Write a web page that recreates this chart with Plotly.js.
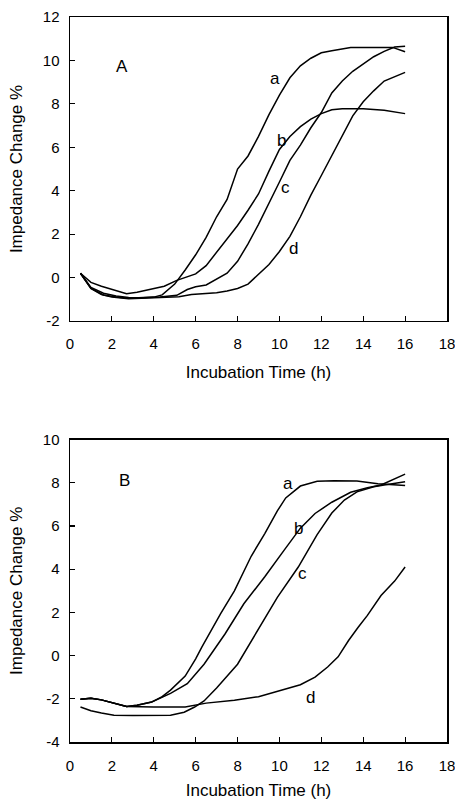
<!DOCTYPE html>
<html>
<head>
<meta charset="utf-8">
<script src="https://cdn.plot.ly/plotly-3.0.1.min.js"></script>
<style>html,body{margin:0;padding:0;background:#fff;}#chart{width:455px;height:800px;}</style>
</head>
<body>
<div id="chart"></div>
<script>
// Panel A data
const A_a_x = [0.5,1.0,1.6,2.2,2.8,3.4,4.0,4.4,5.0,5.5,6.0,6.5,7.0,7.5,8.0,8.5,9.0,9.5,10.0,10.5,11.0,11.5,12.0,12.5,13.0,13.4,14.0,14.5,15.0,15.4,16.0];
const A_a_y = [0.2,-0.5,-0.8,-0.9,-0.95,-0.93,-0.9,-0.8,-0.3,0.35,1.05,1.85,2.8,3.6,5.0,5.6,6.5,7.5,8.4,9.2,9.75,10.1,10.35,10.45,10.52,10.6,10.6,10.6,10.6,10.6,10.4];
const A_b_x = [0.5,1.0,1.5,2.0,2.7,3.2,4.0,4.5,5.1,5.6,6.0,6.5,7.0,7.5,8.0,8.5,9.0,9.5,10.0,10.5,11.0,11.5,12.0,12.5,13.0,14.0,15.0,16.0];
const A_b_y = [0.2,-0.22,-0.4,-0.55,-0.74,-0.68,-0.52,-0.4,-0.13,0.05,0.17,0.55,1.15,1.75,2.4,3.1,3.85,4.9,5.9,6.5,6.95,7.3,7.55,7.73,7.78,7.78,7.7,7.55];
const A_c_x = [0.5,1.0,1.6,2.2,2.8,3.5,4.3,5.1,5.6,6.0,6.5,7.0,7.5,8.0,8.5,9.0,9.5,10.0,10.5,11.0,11.5,12.0,12.5,13.0,13.5,14.0,14.5,15.0,15.5,16.0];
const A_c_y = [0.2,-0.45,-0.72,-0.85,-0.92,-0.93,-0.9,-0.82,-0.55,-0.42,-0.34,-0.05,0.2,0.75,1.55,2.45,3.4,4.4,5.4,6.1,6.9,7.6,8.5,9.05,9.5,9.85,10.17,10.42,10.62,10.65];
const A_d_x = [0.5,1.0,1.5,2.0,2.8,3.5,4.5,5.2,5.8,6.5,7.0,7.5,8.0,8.5,9.0,9.5,10.0,10.5,11.0,11.5,12.0,12.5,13.0,13.5,14.0,14.5,15.0,15.5,16.0];
const A_d_y = [0.2,-0.5,-0.78,-0.9,-0.97,-0.95,-0.92,-0.88,-0.78,-0.72,-0.7,-0.62,-0.5,-0.3,0.15,0.6,1.2,1.9,2.8,3.8,4.7,5.6,6.5,7.45,8.1,8.6,9.05,9.25,9.45];

// Panel B data
const B_a_x = [0.5,1.0,1.5,2.0,2.7,3.2,3.9,4.4,4.8,5.5,6.0,6.3,6.8,7.2,7.85,8.3,8.65,9.3,9.9,10.3,11.0,11.8,12.6,13.7,14.7,16.0];
const B_a_y = [-2.02,-1.98,-2.05,-2.17,-2.36,-2.3,-2.15,-1.9,-1.6,-0.95,-0.15,0.4,1.3,1.95,3.0,3.9,4.6,5.65,6.7,7.3,7.85,8.07,8.1,8.08,7.96,7.88];
const B_b_x = [0.5,1.0,1.5,2.0,2.7,3.2,3.9,4.8,5.6,6.4,7.4,8.3,9.3,10.2,11.0,11.7,12.5,13.4,14.2,14.85,16.0];
const B_b_y = [-2.02,-1.98,-2.05,-2.17,-2.36,-2.3,-2.15,-1.75,-1.3,-0.4,1.0,2.4,3.65,4.85,5.9,6.58,7.1,7.56,7.77,7.9,8.4];
const B_c_x = [0.5,1.0,1.5,2.1,3.0,4.8,5.45,5.95,6.4,7.0,8.0,9.0,9.9,10.9,11.8,12.5,13.1,13.7,14.5,15.0,16.0];
const B_c_y = [-2.38,-2.55,-2.66,-2.76,-2.77,-2.76,-2.62,-2.38,-2.1,-1.5,-0.4,1.2,2.7,4.1,5.6,6.6,7.2,7.58,7.82,7.9,8.05];
const B_d_x = [0.5,1.0,1.5,2.0,2.7,4.0,5.5,6.5,7.85,9.0,10.0,11.0,11.7,12.3,12.8,13.3,13.75,14.2,14.85,15.5,16.0];
const B_d_y = [-2.02,-1.98,-2.05,-2.17,-2.36,-2.38,-2.38,-2.2,-2.07,-1.9,-1.62,-1.35,-1.0,-0.53,-0.06,0.7,1.3,1.86,2.78,3.45,4.1];

const xTicks = [0,2,4,6,8,10,12,14,16,18];
const yTicksA = [-2,0,2,4,6,8,10,12];
const yTicksB = [-4,-2,0,2,4,6,8,10];
const txt = v => v.map(n => String(n));

const curveLabels = ['a','b','c','d'];
const panelNames = ['A','B'];
const labelPosA = {x:[9.79,10.1,10.3,10.67], y:[9.16,6.32,4.17,1.33]};
const labelPosB = {x:[10.4,10.92,11.1,11.46], y:[7.99,5.88,3.8,-1.92]};
const panelPos = {x:[2.48,2.59], y:[9.73,8.12]};

const FONT = 'Liberation Sans, Arial, sans-serif';
const line = {color:'#000', width:1.5};

function tr(x,y,xa,ya){ return {x:x,y:y,xaxis:xa,yaxis:ya,mode:'lines',line:line,showlegend:false,hoverinfo:'skip'}; }

const data = [
  tr(A_a_x,A_a_y,'x','y'), tr(A_b_x,A_b_y,'x','y'), tr(A_c_x,A_c_y,'x','y'), tr(A_d_x,A_d_y,'x','y'),
  tr(B_a_x,B_a_y,'x2','y2'), tr(B_b_x,B_b_y,'x2','y2'), tr(B_c_x,B_c_y,'x2','y2'), tr(B_d_x,B_d_y,'x2','y2')
];

function xaxis(domainAnchor){
  return {
    range:[0,18], tickmode:'array', tickvals:xTicks, ticktext:txt(xTicks), ticks:'inside', ticklen:5, tickwidth:1.2, tickcolor:'#000',
    showline:true, linecolor:'#000', linewidth:1.5, mirror:true, showgrid:false, zeroline:false,
    tickfont:{family:FONT,size:15,color:'#000'}, ticklabelstandoff:9, ticklabeloverflow:'allow',
    title:{text:'Incubation Time (h)', font:{family:FONT,size:17,color:'#000'}, standoff:14},
    anchor:domainAnchor, domain:[0,1]
  };
}
function yaxis(range,ticks,dom,anchor){
  return {
    range:range, tickmode:'array', tickvals:ticks, ticktext:txt(ticks), ticks:'inside', ticklen:5, tickwidth:1.2, tickcolor:'#000',
    showline:true, linecolor:'#000', linewidth:1.5, mirror:true, showgrid:false, zeroline:false,
    tickfont:{family:FONT,size:15,color:'#000'}, ticklabelstandoff:6, ticklabeloverflow:'allow',
    title:{text:'Impedance Change %', font:{family:FONT,size:17,color:'#000'}, standoff:16},
    domain:dom, anchor:anchor
  };
}

const annotations = [];
curveLabels.forEach((t,i)=>{
  annotations.push({x:labelPosA.x[i],y:labelPosA.y[i],xref:'x',yref:'y',text:t,showarrow:false,font:{family:FONT,size:17,color:'#000'}});
  annotations.push({x:labelPosB.x[i],y:labelPosB.y[i],xref:'x2',yref:'y2',text:t,showarrow:false,font:{family:FONT,size:17,color:'#000'}});
});
annotations.push({x:panelPos.x[0],y:panelPos.y[0],xref:'x',yref:'y',text:panelNames[0],showarrow:false,font:{family:FONT,size:17,color:'#000'}});
annotations.push({x:panelPos.x[1],y:panelPos.y[1],xref:'x2',yref:'y2',text:panelNames[1],showarrow:false,font:{family:FONT,size:17,color:'#000'}});

const layout = {
  width:455, height:800,
  margin:{l:70,r:8,t:17,b:58},
  paper_bgcolor:'#fff', plot_bgcolor:'#fff',
  font:{family:FONT,color:'#000'},
  xaxis:xaxis('y'),
  yaxis:yaxis([-2,12],yTicksA,[0.5807,1],'x'),
  xaxis2:xaxis('y2'),
  yaxis2:yaxis([-4,10],yTicksB,[0,0.4171],'x2'),
  annotations:annotations,
  showlegend:false
};

Plotly.newPlot('chart',data,layout,{staticPlot:true,displayModeBar:false});
</script>
</body>
</html>
